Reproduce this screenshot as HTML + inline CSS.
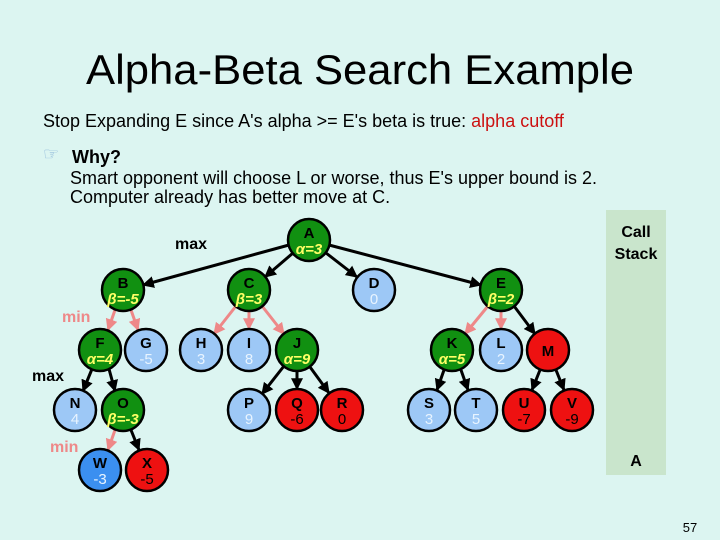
<!DOCTYPE html>
<html><head><meta charset="utf-8"><style>
html,body{margin:0;padding:0;background:#dcf5f1;}
svg{display:block;font-family:"Liberation Sans",Arial,sans-serif;}
.n{font-weight:bold;font-size:15px;text-anchor:middle;}
.v{font-size:15px;text-anchor:middle;}
</style></head><body>
<svg width="720" height="540" viewBox="0 0 720 540">
<defs>
<marker id="ab" viewBox="0 0 10 10" refX="9" refY="5" markerWidth="4" markerHeight="4" orient="auto"><path d="M0,0L10,5L0,10z" fill="#000"/></marker>
<marker id="ap" viewBox="0 0 10 10" refX="9" refY="5" markerWidth="4" markerHeight="4" orient="auto"><path d="M0,0L10,5L0,10z" fill="#ee8888"/></marker>
</defs>
<rect width="720" height="540" fill="#dcf5f1"/>
<rect x="606" y="210" width="60" height="265" fill="#c9e5cc"/>
<text x="360" y="84" font-size="42" text-anchor="middle" textLength="548" lengthAdjust="spacingAndGlyphs">Alpha-Beta Search Example</text>
<text x="43" y="127" font-size="18">Stop Expanding E since A's alpha &gt;= E's beta is true: <tspan fill="#cc1111">alpha cutoff</tspan></text>
<text x="43" y="160" font-size="18" fill="#8ab4d8">☞</text>
<text x="72" y="163" font-size="18" font-weight="bold">Why?</text>
<text x="70" y="184" font-size="18">Smart opponent will choose L or worse, thus E's upper bound is 2.</text>
<text x="70" y="203" font-size="18">Computer already has better move at C.</text>
<text x="636" y="237" font-size="16" font-weight="bold" text-anchor="middle">Call</text>
<text x="636" y="259" font-size="16" font-weight="bold" text-anchor="middle">Stack</text>
<text x="636" y="466" font-size="16" font-weight="bold" text-anchor="middle">A</text>
<text x="175" y="249" font-size="16" font-weight="bold">max</text>
<text x="62" y="322" font-size="16" font-weight="bold" fill="#ee8888">min</text>
<text x="32" y="381" font-size="16" font-weight="bold">max</text>
<text x="50" y="452" font-size="16" font-weight="bold" fill="#ee8888">min</text>
<text x="690" y="532" font-size="13" text-anchor="middle">57</text>
<g stroke="#000" stroke-width="3" marker-end="url(#ab)">
<line x1="289" y1="245" x2="143" y2="285"/>
<line x1="293" y1="253" x2="265" y2="277"/>
<line x1="326" y1="253" x2="357" y2="277"/>
<line x1="329" y1="245" x2="481" y2="285"/>
<line x1="514" y1="306" x2="535" y2="334"/>
<line x1="92" y1="369" x2="83" y2="391"/>
<line x1="109" y1="369" x2="115" y2="391"/>
<line x1="284" y1="366" x2="262" y2="394"/>
<line x1="297" y1="371" x2="297" y2="389"/>
<line x1="310" y1="367" x2="329" y2="393"/>
<line x1="444" y1="370" x2="437" y2="390"/>
<line x1="461" y1="370" x2="468" y2="390"/>
<line x1="540" y1="370" x2="532" y2="390"/>
<line x1="556" y1="370" x2="564" y2="390"/>
<line x1="131" y1="430" x2="139" y2="450"/>
</g>
<g stroke="#ee8888" stroke-width="3" marker-end="url(#ap)">
<line x1="115" y1="310" x2="108" y2="330"/>
<line x1="131" y1="310" x2="138" y2="330"/>
<line x1="236" y1="306" x2="214" y2="334"/>
<line x1="249" y1="311" x2="249" y2="329"/>
<line x1="262" y1="306" x2="284" y2="334"/>
<line x1="488" y1="306" x2="465" y2="334"/>
<line x1="501" y1="311" x2="501" y2="329"/>
<line x1="115" y1="430" x2="108" y2="450"/>
</g>
<g stroke="#000" stroke-width="2.5">
<circle cx="309" cy="240" r="21" fill="#119011"/>
<circle cx="123" cy="290" r="21" fill="#119011"/>
<circle cx="249" cy="290" r="21" fill="#119011"/>
<circle cx="374" cy="290" r="21" fill="#9dc8f6"/>
<circle cx="501" cy="290" r="21" fill="#119011"/>
<circle cx="100" cy="350" r="21" fill="#119011"/>
<circle cx="146" cy="350" r="21" fill="#9dc8f6"/>
<circle cx="201" cy="350" r="21" fill="#9dc8f6"/>
<circle cx="249" cy="350" r="21" fill="#9dc8f6"/>
<circle cx="297" cy="350" r="21" fill="#119011"/>
<circle cx="452" cy="350" r="21" fill="#119011"/>
<circle cx="501" cy="350" r="21" fill="#9dc8f6"/>
<circle cx="548" cy="350" r="21" fill="#ee1111"/>
<circle cx="75" cy="410" r="21" fill="#9dc8f6"/>
<circle cx="123" cy="410" r="21" fill="#119011"/>
<circle cx="249" cy="410" r="21" fill="#9dc8f6"/>
<circle cx="297" cy="410" r="21" fill="#ee1111"/>
<circle cx="342" cy="410" r="21" fill="#ee1111"/>
<circle cx="429" cy="410" r="21" fill="#9dc8f6"/>
<circle cx="476" cy="410" r="21" fill="#9dc8f6"/>
<circle cx="524" cy="410" r="21" fill="#ee1111"/>
<circle cx="572" cy="410" r="21" fill="#ee1111"/>
<circle cx="100" cy="470" r="21" fill="#3b8ff0"/>
<circle cx="147" cy="470" r="21" fill="#ee1111"/>
</g>
<g class="n">
<text x="309" y="238">A</text><text x="123" y="288">B</text><text x="249" y="288">C</text><text x="374" y="288">D</text><text x="501" y="288">E</text>
<text x="100" y="348">F</text><text x="146" y="348">G</text><text x="201" y="348">H</text><text x="249" y="348">I</text><text x="297" y="348">J</text>
<text x="452" y="348">K</text><text x="501" y="348">L</text><text x="548" y="356">M</text>
<text x="75" y="408">N</text><text x="123" y="408">O</text><text x="249" y="408">P</text><text x="297" y="408">Q</text><text x="342" y="408">R</text>
<text x="429" y="408">S</text><text x="476" y="408">T</text><text x="524" y="408">U</text><text x="572" y="408">V</text>
<text x="100" y="468">W</text><text x="147" y="468">X</text>
</g>
<g class="v" fill="#ffff66" font-style="italic" font-weight="bold">
<text x="309" y="254">α=3</text><text x="123" y="304">β=-5</text><text x="249" y="304">β=3</text><text x="501" y="304">β=2</text>
<text x="100" y="364">α=4</text><text x="297" y="364">α=9</text><text x="452" y="364">α=5</text><text x="123" y="424">β=-3</text>
</g>
<g class="v" fill="#e8f4ff">
<text x="374" y="304">0</text><text x="146" y="364">-5</text><text x="201" y="364">3</text><text x="249" y="364">8</text><text x="501" y="364">2</text>
<text x="75" y="424">4</text><text x="249" y="424">9</text><text x="429" y="424">3</text><text x="476" y="424">5</text><text x="100" y="484">-3</text>
</g>
<g class="v" fill="#000">
<text x="297" y="424">-6</text><text x="342" y="424">0</text><text x="524" y="424">-7</text><text x="572" y="424">-9</text><text x="147" y="484">-5</text>
</g>
</svg>
</body></html>
